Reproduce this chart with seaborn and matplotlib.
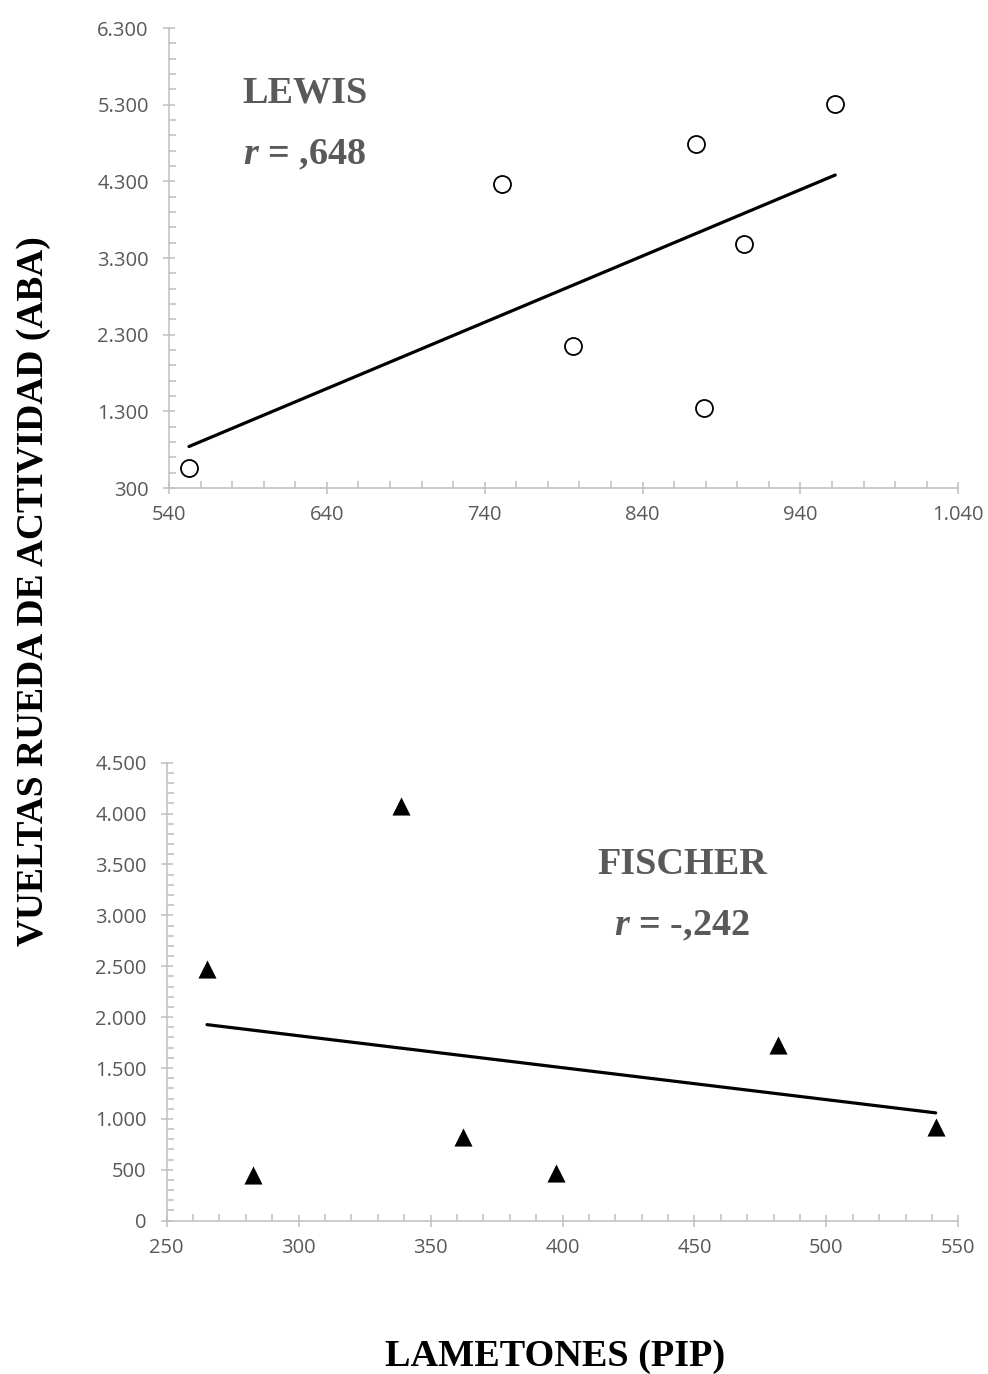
import numpy as np
import pandas as pd
import matplotlib
matplotlib.use("Agg")
import matplotlib.pyplot as plt
from matplotlib.ticker import FixedLocator, MultipleLocator, FuncFormatter
import seaborn as sns

# values
lewis_pip = [552.7, 751, 796, 874, 879, 904, 962]
lewis_aba = [561, 4264, 2152, 4787, 1343, 3481, 5307]
fischer_pip = [265.3, 282.7, 338.8, 362.2, 397.5, 481.6, 541.4]
fischer_aba = [2472, 449, 4074, 822, 469, 1726, 920]

lewis_xticks = [540, 640, 740, 840, 940, 1040]
lewis_yticks = [300, 1300, 2300, 3300, 4300, 5300, 6300]
fischer_xticks = [250, 300, 350, 400, 450, 500, 550]
fischer_yticks = [0, 500, 1000, 1500, 2000, 2500, 3000, 3500, 4000, 4500]

lewis = pd.DataFrame({"PIP": lewis_pip, "ABA": lewis_aba})
fischer = pd.DataFrame({"PIP": fischer_pip, "ABA": fischer_aba})

sns.set_style("ticks")
plt.rcParams["font.family"] = ["Open Sans", "DejaVu Sans"]
plt.rcParams["mathtext.fontset"] = "custom"
plt.rcParams["mathtext.it"] = "Liberation Serif:italic:bold"
plt.rcParams["mathtext.rm"] = "Liberation Serif:bold"

axis_grey = "#bfbfbf"
label_grey = "#595959"

fig = plt.figure(figsize=(9.88, 13.74), dpi=100)
ax1 = fig.add_axes([0.171, 0.6448, 0.799, 0.3348])
ax2 = fig.add_axes([0.1687, 0.1116, 0.8013, 0.3333])

thousands = FuncFormatter(lambda v, p: f"{v:,.0f}".replace(",", "."))

sns.regplot(data=lewis, x="PIP", y="ABA", ax=ax1, ci=None, truncate=True,
            marker="o",
            scatter_kws={"s": 150, "facecolors": "white", "edgecolors": "black",
                         "linewidths": 1.3, "alpha": 1, "zorder": 3},
            line_kws={"color": "black", "linewidth": 2.3})

sns.regplot(data=fischer, x="PIP", y="ABA", ax=ax2, ci=None, truncate=True,
            marker="^",
            scatter_kws={"s": 170, "color": "black", "linewidths": 0,
                         "alpha": 1, "zorder": 3},
            line_kws={"color": "black", "linewidth": 2.3})

ax1.set_xlim(540, 1040)
ax1.set_ylim(300, 6300)
ax1.xaxis.set_major_locator(FixedLocator(lewis_xticks))
ax1.yaxis.set_major_locator(FixedLocator(lewis_yticks))
ax1.xaxis.set_minor_locator(FixedLocator(np.arange(540, 1041, 20)))
ax1.yaxis.set_minor_locator(FixedLocator(np.arange(300, 6301, 200)))

ax2.set_xlim(250, 550)
ax2.set_ylim(0, 4500)
ax2.xaxis.set_major_locator(FixedLocator(fischer_xticks))
ax2.yaxis.set_major_locator(FixedLocator(fischer_yticks))
ax2.xaxis.set_minor_locator(MultipleLocator(10))
ax2.yaxis.set_minor_locator(MultipleLocator(100))

for ax in (ax1, ax2):
    ax.xaxis.set_major_formatter(thousands)
    ax.yaxis.set_major_formatter(thousands)
    ax.set_xlabel("")
    ax.set_ylabel("")
    sns.despine(ax=ax)
    for side in ("left", "bottom"):
        ax.spines[side].set_color(axis_grey)
        ax.spines[side].set_linewidth(1.1)
    ax.tick_params(which="major", direction="inout", length=9, width=1.1,
                   color=axis_grey, labelcolor=label_grey, labelsize=14.5)
    ax.tick_params(axis="y", which="major", pad=10)
    ax.tick_params(axis="x", which="major", pad=8)
    ax.tick_params(which="minor", direction="in", length=5, width=1.1,
                   color=axis_grey)

# labels inside the panels
serif = dict(fontsize=27.5, fontweight="bold", family="Liberation Serif",
             color=label_grey, ha="center")
ax1.text(0.172, 0.838, "LEWIS", transform=ax1.transAxes, **serif)
ax1.text(0.172, 0.703, r"$\mathit{r}$ = ,648", transform=ax1.transAxes, **serif)
ax2.text(0.651, 0.758, "FISCHER", transform=ax2.transAxes, **serif)
ax2.text(0.651, 0.622, r"$\mathit{r}$ = -,242", transform=ax2.transAxes, **serif)

fig.text(0.034, 0.57, "VUELTAS RUEDA DE ACTIVIDAD (ABA)", rotation=90,
         ha="center", va="center", fontsize=27, fontweight="bold",
         family="Liberation Serif", color="black")
fig.text(0.562, 0.006, "LAMETONES (PIP)", ha="center", va="baseline",
         fontsize=27.5, fontweight="bold", family="Liberation Serif", color="black")

fig.savefig("out.png", dpi=100)
